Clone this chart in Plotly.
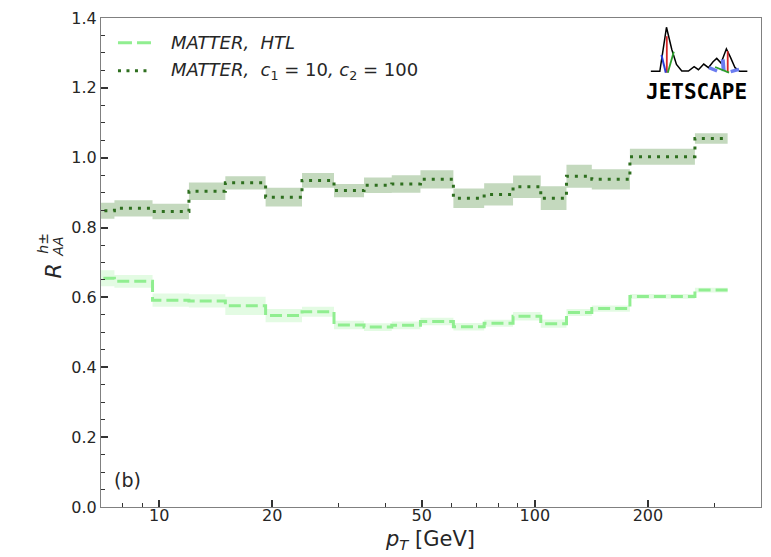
import plotly.graph_objects as go
import numpy as np

# pT bin edges [GeV] (first bin starts below the plotted range)
pt_edges = [6.4, 7.6, 9.6, 12.0, 15.0, 19.2, 24.0, 29.2, 35.1, 41.6, 49.6,
            60.7, 73.3, 87.5, 103.7, 121.4, 141.8, 179.1, 266.8, 326.0]

# MATTER, HTL
raa_htl = [0.655, 0.646, 0.592, 0.590, 0.576, 0.548, 0.559, 0.521, 0.515, 0.520,
           0.531, 0.516, 0.526, 0.546, 0.525, 0.557, 0.568, 0.603, 0.621]
err_htl = [0.023, 0.018, 0.019, 0.019, 0.026, 0.019, 0.014, 0.012, 0.011, 0.011,
           0.011, 0.011, 0.010, 0.012, 0.012, 0.010, 0.009, 0.007, 0.007]

# MATTER, c1 = 10, c2 = 100
raa_c = [0.848, 0.855, 0.846, 0.904, 0.928, 0.887, 0.935, 0.906, 0.921, 0.925,
         0.938, 0.884, 0.895, 0.917, 0.884, 0.947, 0.938, 1.003, 1.055]
err_c = [0.023, 0.023, 0.022, 0.025, 0.019, 0.027, 0.021, 0.019, 0.022, 0.025,
         0.026, 0.028, 0.032, 0.032, 0.034, 0.033, 0.029, 0.023, 0.015]

x_major = [10, 20, 50, 100, 200]
x_minor = [7, 8, 9, 30, 40, 60, 70, 80, 90, 300]

LIGHT = "#90ee90"
LIGHT_BAND = "rgba(144,238,144,0.25)"
DARK = "#2e6f1f"
DARK_BAND = "rgba(60,130,40,0.30)"
TXT = "#262626"
FONT = "DejaVu Sans"

W, H = 771, 557
L, R, T, B = 101, 9, 15, 50
PW, PH = W - L - R, H - T - B


def px(x):
    return (x - L) / PW


def py(y):
    return (H - B - y) / PH


def step(vals):
    return list(vals) + [vals[-1]]


fig = go.Figure()


def add_series(vals, errs, line_color, band_color, dash):
    up = [v + e for v, e in zip(vals, errs)]
    lo = [v - e for v, e in zip(vals, errs)]
    fig.add_trace(go.Scatter(x=pt_edges, y=step(up), mode="lines", line_shape="hv",
                             line=dict(width=0), showlegend=False, hoverinfo="skip"))
    fig.add_trace(go.Scatter(x=pt_edges, y=step(lo), mode="lines", line_shape="hv",
                             line=dict(width=0), fill="tonexty", fillcolor=band_color,
                             showlegend=False, hoverinfo="skip"))
    fig.add_trace(go.Scatter(x=pt_edges, y=step(vals), mode="lines", line_shape="hv",
                             line=dict(color=line_color, width=3, dash=dash),
                             showlegend=False))


add_series(raa_htl, err_htl, LIGHT, LIGHT_BAND, "12px,5px")
add_series(raa_c, err_c, DARK, DARK_BAND, "3px,6px")

shapes = []
annotations = []

# legend
shapes.append(dict(type="line", xref="paper", yref="paper", x0=px(118), x1=px(152),
                   y0=py(40), y1=py(40), line=dict(color=LIGHT, width=3, dash="14px,5px")))
shapes.append(dict(type="line", xref="paper", yref="paper", x0=px(118), x1=px(152),
                   y0=py(68), y1=py(68), line=dict(color=DARK, width=3, dash="3px,5.5px")))
annotations.append(dict(xref="paper", yref="paper", x=px(169), y=py(40), xanchor="left",
                        yanchor="middle", showarrow=False,
                        text="<i>MATTER,  HTL</i>", font=dict(size=18, color=TXT, family=FONT)))
annotations.append(dict(xref="paper", yref="paper", x=px(169), y=py(68), xanchor="left",
                        yanchor="middle", showarrow=False,
                        text="<i>MATTER,  c</i><sub>1</sub> = 10<i>, c</i><sub>2</sub> = 100",
                        font=dict(size=18, color=TXT, family=FONT)))

# panel label
annotations.append(dict(xref="paper", yref="paper", x=px(112), y=py(480), xanchor="left",
                        yanchor="middle", showarrow=False, text="(b)",
                        font=dict(size=19, color=TXT, family=FONT)))

# axis titles
annotations.append(dict(xref="paper", yref="paper", x=px(430), y=py(540), xanchor="center",
                        yanchor="middle", showarrow=False,
                        text="<i>p</i><sub><i>T</i></sub> [GeV]",
                        font=dict(size=21, color=TXT, family=FONT)))
annotations.append(dict(xref="paper", yref="paper", x=px(53), y=py(270), xanchor="center",
                        yanchor="middle", showarrow=False, textangle=-90, text="<i>R</i>",
                        font=dict(size=22, color=TXT, family=FONT)))
annotations.append(dict(xref="paper", yref="paper", x=px(58), y=py(245), xanchor="center",
                        yanchor="middle", showarrow=False, textangle=-90, text="<i>AA</i>",
                        font=dict(size=14, color=TXT, family=FONT)))
annotations.append(dict(xref="paper", yref="paper", x=px(43), y=py(242), xanchor="center",
                        yanchor="middle", showarrow=False, textangle=-90, text="<i>h</i>±",
                        font=dict(size=14, color=TXT, family=FONT)))


# JETSCAPE logo (pixel coordinates inside the figure)
def lz(xz, yz):
    return 630 + xz / 3.0, 15 + yz / 3.0


def path_from(pts):
    s = ""
    for i, (xz, yz) in enumerate(pts):
        X, Y = lz(xz, yz)
        s += ("M" if i == 0 else "L") + f"{px(X):.5f},{py(Y):.5f} "
    return s.strip()


mountain = [(65, 161), (92, 161), (112, 28), (128, 95), (142, 140), (158, 160), (178, 160),
            (195, 147), (208, 156), (224, 139), (238, 150), (252, 132), (263, 122),
            (276, 136), (292, 93), (304, 118), (318, 150), (332, 161), (355, 161)]
shapes.append(dict(type="path", xref="paper", yref="paper", path=path_from(mountain),
                   line=dict(color="black", width=1.5)))
logo_segs = [
    ([(113, 55), (113, 165)], "#d62728", 1.8),
    ([(97, 112), (110, 165)], "#2b3fd6", 2),
    ([(134, 102), (116, 165)], "#2ca02c", 1.8),
    ([(296, 100), (296, 165)], "#d62728", 1.8),
    ([(240, 150), (264, 160)], "#6b7cf0", 3.5),
    ([(281, 125), (284, 160)], "#6b7cf0", 4),
    ([(258, 148), (300, 165)], "#2ca02c", 1.8),
    ([(305, 162), (330, 155)], "#6b7cf0", 3.5),
]
for pts, col, wd in logo_segs:
    shapes.append(dict(type="path", xref="paper", yref="paper", path=path_from(pts),
                       line=dict(color=col, width=wd)))
annotations.append(dict(xref="paper", yref="paper", x=px(697), y=py(89), xanchor="center",
                        yanchor="middle", showarrow=False, text="<b>JETSCAPE</b>",
                        font=dict(size=21, color="black", family="DejaVu Sans Mono")))

fig.update_layout(
    width=W, height=H,
    margin=dict(l=L, r=R, t=T, b=B),
    paper_bgcolor="white", plot_bgcolor="white",
    showlegend=False,
    shapes=shapes, annotations=annotations,
    font=dict(family=FONT, size=16, color=TXT),
)
fig.update_xaxes(
    type="log", range=[np.log10(7), np.log10(400)],
    tickvals=x_major, ticktext=[str(v) for v in x_major],
    ticks="inside", ticklen=7, tickwidth=2, tickcolor="#333",
    ticklabelstandoff=-6,
    minor=dict(tickvals=x_minor, ticks="inside", ticklen=4, tickwidth=1, tickcolor="#333",
               showgrid=False),
    showline=True, linecolor="#808080", linewidth=1.2, mirror=True,
    showgrid=False, zeroline=False,
    tickfont=dict(size=16, color=TXT, family=FONT),
)
fig.update_yaxes(
    range=[0, 1.4], tickvals=[0, 0.2, 0.4, 0.6, 0.8, 1.0, 1.2, 1.4],
    ticktext=["0.0", "0.2", "0.4", "0.6", "0.8", "1.0", "1.2", "1.4"],
    ticks="inside", ticklen=7, tickwidth=2, tickcolor="#333",
    minor=dict(dtick=0.05, tick0=0, ticks="inside", ticklen=4, tickwidth=1,
               tickcolor="#333", showgrid=False),
    showline=True, linecolor="#808080", linewidth=1.2, mirror=True,
    showgrid=False, zeroline=False,
    tickfont=dict(size=16, color=TXT, family=FONT),
)

fig.write_html("out.html")
